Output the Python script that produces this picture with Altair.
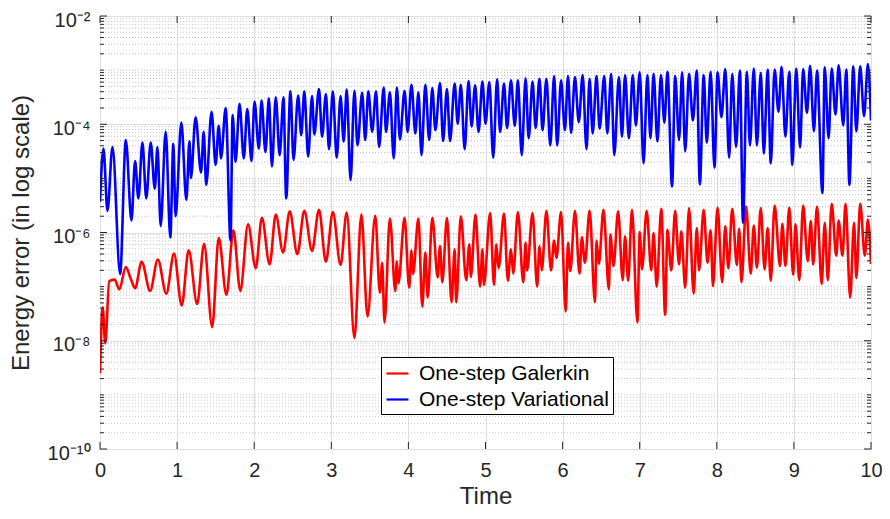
import altair as alt
import pandas as pd

# ---------------- data (time, log10 of energy error) -------------
galerkin_time = [
    0.00, 0.035, 0.068, 0.12, 0.19, 0.25, 0.335, 0.40, 0.455, 0.54, 0.65, 0.75, 0.86, 0.96,
    1.06, 1.15, 1.26, 1.35, 1.455, 1.54, 1.64, 1.73, 1.82, 1.92, 2.02, 2.10, 2.20, 2.28,
    2.375, 2.46, 2.56, 2.65, 2.75, 2.84, 2.93, 3.02, 3.12, 3.20, 3.30, 3.39, 3.47, 3.57,
    3.63, 3.66, 3.69, 3.76, 3.83, 3.85, 3.87, 3.95, 4.01, 4.04, 4.06, 4.13, 4.18, 4.22,
    4.25, 4.31, 4.38, 4.41, 4.44, 4.50, 4.56, 4.60, 4.62, 4.68, 4.75, 4.79, 4.81, 4.87,
    4.93, 4.96, 4.98, 5.06, 5.11, 5.14, 5.17, 5.24, 5.29, 5.33, 5.36, 5.42, 5.49, 5.52,
    5.54, 5.61, 5.67, 5.70, 5.73, 5.79, 5.85, 5.89, 5.92, 5.98, 6.04, 6.07, 6.10, 6.16,
    6.22, 6.25, 6.29, 6.35, 6.42, 6.44, 6.47, 6.53, 6.60, 6.62, 6.66, 6.72, 6.78, 6.81,
    6.85, 6.90, 6.97, 7.00, 7.03, 7.09, 7.15, 7.18, 7.22, 7.28, 7.33, 7.36, 7.41, 7.46,
    7.51, 7.54, 7.59, 7.64, 7.70, 7.74, 7.77, 7.83, 7.88, 7.92, 7.95, 8.01, 8.07, 8.11,
    8.15, 8.20, 8.26, 8.29, 8.32, 8.38, 8.44, 8.48, 8.52, 8.57, 8.62, 8.66, 8.70, 8.75,
    8.82, 8.85, 8.89, 8.94, 8.99, 9.02, 9.07, 9.12, 9.18, 9.22, 9.25, 9.30, 9.36, 9.40,
    9.44, 9.49, 9.55, 9.58, 9.63, 9.67, 9.73, 9.78, 9.81, 9.86, 9.92, 9.96, 10.00,
]
galerkin_log10 = [
    -8.60, -7.38, -8.05, -6.90, -6.87, -7.05, -6.64, -6.86, -7.03, -6.54, -7.08, -6.50, -7.13, -6.39,
    -7.35, -6.33, -7.32, -6.21, -7.75, -6.10, -7.15, -5.96, -7.08, -5.85, -6.66, -5.73, -6.59, -5.67,
    -6.37, -5.61, -6.40, -5.60, -6.34, -5.58, -6.54, -5.62, -6.60, -5.63, -7.95, -5.67, -7.55, -5.69,
    -7.11, -6.56, -7.66, -5.74, -7.08, -6.53, -6.94, -5.73, -7.02, -6.33, -6.77, -5.74, -7.37, -6.37,
    -7.20, -5.73, -6.83, -6.25, -6.92, -5.73, -7.29, -6.31, -7.29, -5.70, -6.88, -6.22, -6.82, -5.67,
    -7.00, -6.31, -6.97, -5.64, -6.97, -6.22, -6.66, -5.65, -6.89, -6.31, -6.76, -5.62, -6.92, -6.19,
    -6.70, -5.64, -7.00, -6.25, -6.70, -5.60, -6.70, -6.15, -6.47, -5.62, -7.46, -6.19, -6.71, -5.60,
    -6.76, -6.09, -6.56, -5.60, -7.29, -6.15, -6.58, -5.58, -7.05, -6.04, -6.62, -5.61, -6.88, -6.07,
    -6.89, -5.58, -7.66, -5.99, -6.68, -5.60, -6.70, -6.01, -7.00, -5.56, -7.52, -5.95, -6.70, -5.60,
    -6.59, -5.98, -7.02, -5.55, -7.13, -5.92, -6.70, -5.58, -6.56, -5.96, -6.99, -5.54, -6.92, -5.88,
    -6.66, -5.56, -6.60, -5.93, -6.92, -5.52, -6.76, -5.87, -6.65, -5.55, -6.68, -5.92, -6.89, -5.50,
    -6.62, -5.84, -6.62, -5.54, -6.78, -5.85, -6.88, -5.50, -6.53, -5.79, -6.59, -5.52, -6.95, -5.82,
    -6.88, -5.47, -6.43, -5.78, -6.43, -5.47, -7.20, -5.82, -6.84, -5.47, -6.43, -5.76, -6.58,
]

variational_time = [
    0.00, 0.045, 0.097, 0.162, 0.261, 0.335, 0.408, 0.455, 0.498, 0.550, 0.600, 0.658, 0.710, 0.745,
    0.787, 0.852, 0.912, 0.951, 0.980, 1.055, 1.120, 1.160, 1.180, 1.240, 1.310, 1.345, 1.378, 1.447,
    1.500, 1.540, 1.570, 1.630, 1.693, 1.720, 1.758, 1.810, 1.865, 1.910, 1.965, 2.004, 2.060, 2.095,
    2.146, 2.190, 2.230, 2.280, 2.330, 2.380, 2.415, 2.470, 2.510, 2.570, 2.610, 2.650, 2.700, 2.750,
    2.780, 2.840, 2.880, 2.930, 2.970, 3.020, 3.070, 3.120, 3.160, 3.200, 3.250, 3.300, 3.340, 3.400,
    3.440, 3.480, 3.530, 3.580, 3.620, 3.680, 3.710, 3.760, 3.810, 3.850, 3.890, 3.950, 3.990, 4.040,
    4.090, 4.130, 4.170, 4.220, 4.270, 4.310, 4.350, 4.410, 4.450, 4.500, 4.540, 4.600, 4.640, 4.680,
    4.730, 4.780, 4.820, 4.865, 4.910, 4.960, 5.000, 5.050, 5.100, 5.150, 5.190, 5.240, 5.280, 5.330,
    5.380, 5.420, 5.470, 5.520, 5.560, 5.610, 5.650, 5.700, 5.740, 5.790, 5.840, 5.890, 5.930, 5.980,
    6.030, 6.070, 6.110, 6.160, 6.210, 6.260, 6.310, 6.350, 6.390, 6.440, 6.480, 6.540, 6.580, 6.630,
    6.670, 6.730, 6.770, 6.810, 6.860, 6.910, 6.950, 7.000, 7.050, 7.100, 7.140, 7.180, 7.230, 7.275,
    7.320, 7.360, 7.420, 7.460, 7.510, 7.550, 7.590, 7.640, 7.690, 7.740, 7.780, 7.830, 7.870, 7.920,
    7.970, 8.010, 8.060, 8.110, 8.160, 8.200, 8.250, 8.300, 8.340, 8.390, 8.430, 8.480, 8.520, 8.570,
    8.610, 8.660, 8.700, 8.750, 8.800, 8.840, 8.890, 8.940, 8.980, 9.030, 9.080, 9.120, 9.170, 9.210,
    9.260, 9.300, 9.370, 9.400, 9.450, 9.490, 9.540, 9.580, 9.640, 9.680, 9.720, 9.770, 9.810, 9.860,
    9.910, 9.960, 10.00,
]
variational_log10 = [
    -5.43, -4.45, -5.60, -4.42, -6.77, -4.29, -5.78, -4.68, -5.37, -4.34, -5.37, -4.34, -5.19, -4.42,
    -5.88, -4.14, -6.09, -4.36, -5.70, -3.97, -5.40, -4.31, -4.99, -3.87, -4.89, -4.14, -5.12, -3.77,
    -4.75, -4.03, -4.63, -3.70, -6.15, -3.83, -4.69, -3.62, -4.63, -3.72, -4.68, -3.58, -4.45, -3.56,
    -4.51, -3.52, -4.78, -3.50, -4.57, -3.50, -5.37, -3.39, -4.66, -3.47, -4.20, -3.39, -4.60, -3.48,
    -4.19, -3.35, -4.23, -3.44, -4.46, -3.39, -4.62, -3.48, -4.32, -3.36, -5.03, -3.38, -4.39, -3.42,
    -4.29, -3.39, -4.14, -3.39, -4.42, -3.32, -4.14, -3.41, -4.63, -3.32, -4.28, -3.38, -4.14, -3.27,
    -4.17, -3.41, -4.57, -3.27, -4.29, -3.33, -4.11, -3.24, -4.31, -3.35, -4.31, -3.25, -3.99, -3.27,
    -4.46, -3.20, -4.04, -3.28, -4.14, -3.21, -3.99, -3.22, -4.62, -3.17, -4.14, -3.25, -4.07, -3.19,
    -4.03, -3.19, -4.57, -3.15, -4.26, -3.21, -4.07, -3.16, -4.11, -3.16, -4.39, -3.11, -4.39, -3.19,
    -4.11, -3.11, -4.16, -3.13, -3.96, -3.09, -4.46, -3.16, -4.17, -3.11, -4.08, -3.11, -4.17, -3.07,
    -4.57, -3.13, -4.23, -3.09, -4.26, -3.09, -4.02, -3.04, -4.72, -3.09, -4.26, -3.07, -4.32, -3.09,
    -3.97, -3.03, -5.15, -3.11, -4.29, -3.04, -4.50, -3.07, -3.93, -3.01, -5.11, -3.09, -4.34, -3.03,
    -4.80, -3.04, -3.87, -2.98, -4.62, -3.07, -4.42, -3.01, -5.82, -3.03, -4.39, -2.97, -4.39, -3.05,
    -4.54, -2.99, -4.72, -2.99, -3.77, -2.94, -4.23, -3.03, -4.75, -2.97, -4.43, -2.98, -3.79, -2.92,
    -4.13, -3.01, -5.27, -2.95, -4.26, -2.97, -3.82, -2.91, -4.02, -2.99, -5.12, -2.93, -4.13, -2.93,
    -3.85, -2.89, -3.93,
]

series_names = ["One-step Galerkin", "One-step Variational"]
series_colors = ["#ff0000", "#0000ff"]

x_tick_values = [0, 1, 2, 3, 4, 5, 6, 7, 8, 9, 10]
y_major_values = [1e-10, 1e-8, 1e-6, 1e-4, 1e-2]

# ---------------- tables ----------------
galerkin_df = pd.DataFrame({
    "t": galerkin_time,
    "v": [10.0 ** e for e in galerkin_log10],
    "series": series_names[0],
})
variational_df = pd.DataFrame({
    "t": variational_time,
    "v": [10.0 ** e for e in variational_log10],
    "series": series_names[1],
})

minor_values = []
for k in range(-10, -2):
    for m in range(1, 10):
        if m == 1 and k % 2 == 0:
            continue
        minor_values.append(m * 10.0 ** k)

minor_df = pd.DataFrame({"v": minor_values})
major_df = pd.DataFrame({"v": y_major_values})
xtick_df = pd.DataFrame({"t": x_tick_values})

W, H = 771, 433
FONT = "Liberation Sans"
AXIS_COLOR = "#262626"

x_scale = alt.Scale(domain=[0, 10], nice=False, zero=False)
y_scale = alt.Scale(type="log", domain=[1e-10, 1e-2], nice=False)

x_axis = alt.Axis(
    values=x_tick_values, title="Time", grid=True, gridColor="#dedede", gridWidth=1,
    ticks=False, tickSize=0, domain=False, labelFont=FONT, labelFontSize=20,
    labelColor=AXIS_COLOR, labelPadding=21, labelBaseline="middle", labelFlush=False,
    labelOverlap=False, titleFont=FONT, titleFontSize=24, titleFontWeight="normal",
    titleColor=AXIS_COLOR, titleY=47, titleBaseline="middle", format="d",
)
y_axis = alt.Axis(
    values=y_major_values, title="Energy error (in log scale)", grid=True,
    gridColor="#dedede", gridWidth=1, ticks=False, tickSize=0, domain=False,
    labelFont=FONT, labelFontSize=20, labelColor=AXIS_COLOR, labelPadding=10,
    labelOverlap=False, labelFlush=False, labelBaseline="middle", labelOffset=4,
    labelExpr=("datum.value < 1e-9 ? '10\u207b\u00b9\u2070' : datum.value < 1e-7 ? '10\u207b\u2078' : "
               "datum.value < 1e-5 ? '10\u207b\u2076' : datum.value < 1e-3 ? '10\u207b\u2074' : '10\u207b\u00b2'"),
    titleFont=FONT, titleFontSize=24, titleFontWeight="normal", titleColor=AXIS_COLOR,
    titleX=-79, titleY=H / 2, titleAngle=-90, titleAlign="center", titleBaseline="middle",
)

X = alt.X("t:Q", scale=x_scale, axis=x_axis)
Y = alt.Y("v:Q", scale=y_scale, axis=y_axis)

color = alt.Color(
    "series:N",
    scale=alt.Scale(domain=series_names, range=series_colors),
    legend=alt.Legend(
        title=None, orient="none", legendX=281, legendY=341, direction="vertical",
        symbolType="stroke", symbolSize=484, symbolStrokeWidth=2.2,
        labelFont=FONT, labelFontSize=21, labelColor="#000000", labelOffset=9,
        labelLimit=0, padding=4, rowPadding=3, strokeColor="#000000",
        fillColor="#ffffff", cornerRadius=0, offset=0,
    ),
)

minor_grid = alt.Chart(minor_df).mark_rule(
    color="#c4c4c4", strokeWidth=1, strokeDash=[1, 2]
).encode(y=Y)

minor_ticks_left = alt.Chart(minor_df).mark_rule(color=AXIS_COLOR, strokeWidth=1).encode(
    y=Y, x=alt.value(0), x2=alt.value(4))
minor_ticks_right = alt.Chart(minor_df).mark_rule(color=AXIS_COLOR, strokeWidth=1).encode(
    y=Y, x=alt.value(W), x2=alt.value(W - 4))
major_ticks_left = alt.Chart(major_df).mark_rule(color=AXIS_COLOR, strokeWidth=1).encode(
    y=Y, x=alt.value(0), x2=alt.value(7))
major_ticks_right = alt.Chart(major_df).mark_rule(color=AXIS_COLOR, strokeWidth=1).encode(
    y=Y, x=alt.value(W), x2=alt.value(W - 7))
x_ticks_bottom = alt.Chart(xtick_df).mark_rule(color=AXIS_COLOR, strokeWidth=1).encode(
    x=X, y=alt.value(H), y2=alt.value(H - 7))
x_ticks_top = alt.Chart(xtick_df).mark_rule(color=AXIS_COLOR, strokeWidth=1).encode(
    x=X, y=alt.value(0), y2=alt.value(7))

galerkin_line = alt.Chart(galerkin_df).mark_line(
    strokeWidth=2.6, interpolate="monotone", clip=True
).encode(x=X, y=Y, color=color)
variational_line = alt.Chart(variational_df).mark_line(
    strokeWidth=2.6, interpolate="monotone", clip=True
).encode(x=X, y=Y, color=color)

chart = alt.layer(
    minor_grid, galerkin_line, variational_line,
    minor_ticks_left, minor_ticks_right, major_ticks_left, major_ticks_right,
    x_ticks_bottom, x_ticks_top,
).properties(
    width=W, height=H,
    autosize=alt.AutoSizeParams(type="none"),
    padding={"left": 92, "top": 8, "right": 11, "bottom": 62},
    background="#ffffff",
).configure_view(
    stroke=AXIS_COLOR, strokeWidth=1
)

chart.save("out.html", embed_options={"renderer": "svg", "actions": False})
